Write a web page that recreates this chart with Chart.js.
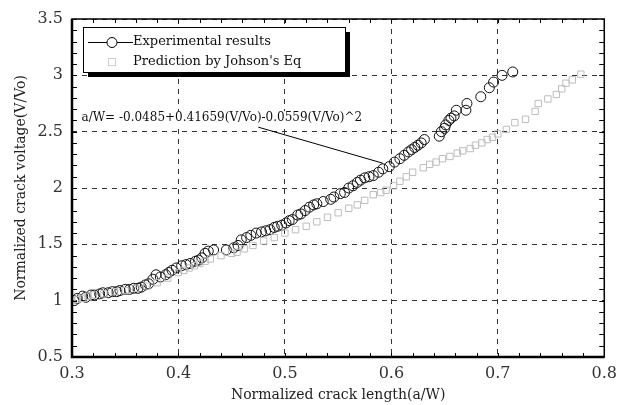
<!DOCTYPE html>
<html>
<head>
<meta charset="utf-8">
<script src="https://cdn.jsdelivr.net/npm/chart.js@4"></script>
<style>
  html, body { margin: 0; padding: 0; background: #fff; }
  #wrap { width: 624px; height: 405px; }
</style>
</head>
<body>
<div id="wrap"><canvas id="canvas"></canvas></div>
<script>
// experimental points (a/W, V/Vo)
const expX = [0.302, 0.305, 0.31, 0.313, 0.318, 0.321, 0.326, 0.329, 0.334, 0.338, 0.342, 0.345, 0.35, 0.354, 0.358, 0.362,
    0.365, 0.369, 0.372, 0.376, 0.379, 0.383, 0.388, 0.391, 0.394, 0.398, 0.403, 0.407, 0.411, 0.416, 0.419, 0.422,
    0.425, 0.428, 0.433, 0.445, 0.452, 0.456, 0.459, 0.464, 0.468, 0.473, 0.478, 0.482, 0.486, 0.49, 0.493, 0.497,
    0.501, 0.504, 0.507, 0.512, 0.515, 0.519, 0.523, 0.527, 0.53, 0.536, 0.543, 0.546, 0.552, 0.556, 0.56, 0.564,
    0.568, 0.571, 0.575, 0.579, 0.583, 0.588, 0.592, 0.598, 0.603, 0.608, 0.612, 0.616, 0.619, 0.622, 0.625, 0.628,
    0.631, 0.645, 0.647, 0.65, 0.651, 0.654, 0.656, 0.659, 0.661, 0.67, 0.671, 0.684, 0.692, 0.696, 0.704, 0.714];
const expY = [1.0, 1.02, 1.04, 1.03, 1.05, 1.05, 1.06, 1.07, 1.07, 1.08, 1.08, 1.09, 1.1, 1.1, 1.11, 1.11,
    1.12, 1.14, 1.15, 1.19, 1.23, 1.21, 1.23, 1.25, 1.27, 1.29, 1.31, 1.32, 1.33, 1.35, 1.36, 1.38,
    1.42, 1.44, 1.45, 1.45, 1.47, 1.49, 1.54, 1.56, 1.58, 1.6, 1.61, 1.62, 1.63, 1.65, 1.66, 1.67,
    1.69, 1.71, 1.72, 1.76, 1.77, 1.8, 1.83, 1.85, 1.86, 1.88, 1.9, 1.92, 1.95, 1.96, 2.0, 2.02,
    2.05, 2.07, 2.09, 2.1, 2.11, 2.14, 2.17, 2.19, 2.23, 2.26, 2.29, 2.32, 2.34, 2.36, 2.38, 2.4,
    2.43, 2.46, 2.5, 2.53, 2.56, 2.6, 2.62, 2.64, 2.69, 2.69, 2.75, 2.81, 2.89, 2.94, 3.0, 3.03];

// Johnson's equation prediction
const predX = [0.3, 0.305, 0.31, 0.315, 0.32, 0.33, 0.34, 0.35, 0.36, 0.37, 0.38, 0.39, 0.4, 0.405, 0.41, 0.415,
    0.42, 0.425, 0.43, 0.44, 0.45, 0.455, 0.462, 0.47, 0.48, 0.49, 0.5, 0.51, 0.52, 0.53, 0.54, 0.55,
    0.56, 0.568, 0.575, 0.583, 0.59, 0.595, 0.602, 0.608, 0.614, 0.62, 0.63, 0.636, 0.642, 0.648, 0.655, 0.662,
    0.667, 0.674, 0.679, 0.685, 0.69, 0.695, 0.7, 0.708, 0.716, 0.726, 0.735, 0.738, 0.747, 0.755, 0.76, 0.764,
    0.77, 0.778];
const predY = [1.0, 1.01, 1.02, 1.04, 1.05, 1.06, 1.08, 1.09, 1.11, 1.13, 1.16, 1.2, 1.25, 1.27, 1.29, 1.31,
    1.33, 1.35, 1.37, 1.4, 1.42, 1.43, 1.46, 1.49, 1.53, 1.56, 1.6, 1.63, 1.66, 1.7, 1.74, 1.78,
    1.82, 1.85, 1.89, 1.94, 1.96, 1.98, 2.02, 2.06, 2.1, 2.14, 2.18, 2.21, 2.23, 2.26, 2.28, 2.31,
    2.33, 2.35, 2.38, 2.4, 2.43, 2.45, 2.48, 2.52, 2.58, 2.61, 2.68, 2.75, 2.79, 2.83, 2.88, 2.93,
    2.96, 3.01];

const legendLabels = ['Experimental results', "Prediction by Johson's Eq"];
const xTitle = 'Normalized crack length(a/W)';
const yTitle = 'Normalized crack voltage(V/Vo)';
const fitText = 'a/W= -0.0485+0.41659(V/Vo)-0.0559(V/Vo)^2';
const fitLabelAt = [0.309, 2.62];
const fitArrow = [[0.475, 2.54], [0.592, 2.22]];

const serif = '"DejaVu Serif", "Liberation Serif", serif';

const toPoints = (xs, ys) => xs.map((x, i) => ({ x: x, y: ys[i] }));

// frame, inward minor ticks, legend box, fit label
const decor = {
    id: 'decor',
    afterDatasetsDraw(chart) {
        const ctx = chart.ctx;
        const a = chart.chartArea;
        const xs = chart.scales.x;
        const ys = chart.scales.y;
        ctx.save();
        ctx.strokeStyle = '#000';

        // minor ticks
        ctx.lineWidth = 1;
        ctx.beginPath();
        for (let i = 1; i < 25; i++) {
            const px = Math.round(xs.getPixelForValue(0.3 + i * 0.02)) + 0.5;
            ctx.moveTo(px, a.bottom); ctx.lineTo(px, a.bottom - 4);
            ctx.moveTo(px, a.top); ctx.lineTo(px, a.top + 4);
        }
        for (let i = 1; i < 30; i++) {
            const py = Math.round(ys.getPixelForValue(0.5 + i * 0.1)) + 0.5;
            ctx.moveTo(a.left, py); ctx.lineTo(a.left + 5, py);
            ctx.moveTo(a.right, py); ctx.lineTo(a.right - 5, py);
        }
        ctx.stroke();

        // frame
        ctx.lineWidth = 1.5;
        ctx.strokeRect(a.left, a.top, a.right - a.left, a.bottom - a.top);
        ctx.lineWidth = 2.5;
        ctx.beginPath();
        ctx.moveTo(a.left, a.top); ctx.lineTo(a.left, a.bottom); ctx.lineTo(a.right, a.bottom);
        ctx.stroke();

        // fit equation + pointer line
        ctx.font = '12px ' + serif;
        ctx.textBaseline = 'middle';
        ctx.fillStyle = '#fff';
        const tw = ctx.measureText(fitText).width;
        const tx = xs.getPixelForValue(fitLabelAt[0]);
        const ty = ys.getPixelForValue(fitLabelAt[1]);
        ctx.fillRect(tx - 1, ty - 7, tw + 2, 14);
        ctx.fillStyle = '#111';
        ctx.fillText(fitText, tx, ty);
        ctx.lineWidth = 1;
        ctx.beginPath();
        ctx.moveTo(xs.getPixelForValue(fitArrow[0][0]), ys.getPixelForValue(fitArrow[0][1]));
        ctx.lineTo(xs.getPixelForValue(fitArrow[1][0]), ys.getPixelForValue(fitArrow[1][1]));
        ctx.stroke();

        // legend box with shadow
        const bx = 83, by = 27, bw = 262, bh = 45;
        ctx.fillStyle = '#000';
        ctx.fillRect(bx + 5, by + 5, bw, bh);
        ctx.fillStyle = '#fff';
        ctx.fillRect(bx, by, bw, bh);
        ctx.lineWidth = 1;
        ctx.strokeRect(bx + 0.5, by + 0.5, bw, bh);

        ctx.font = '13px ' + serif;
        ctx.fillStyle = '#111';
        ctx.textBaseline = 'middle';
        ctx.fillText(legendLabels[0], 133, 42);
        ctx.fillText(legendLabels[1], 133, 62);
        ctx.beginPath();
        ctx.moveTo(88, 42.5); ctx.lineTo(107, 42.5);
        ctx.moveTo(117, 42.5); ctx.lineTo(133, 42.5);
        ctx.stroke();
        ctx.beginPath();
        ctx.arc(112, 42.5, 5, 0, Math.PI * 2);
        ctx.stroke();
        ctx.strokeStyle = '#d0d0d0';
        ctx.strokeRect(108.5, 58.5, 7, 7);
        ctx.restore();
    }
};

const canvas = document.getElementById('canvas');
const chart = new Chart(canvas, {
    type: 'scatter',
    data: {
        datasets: [
            {
                label: legendLabels[1],
                data: toPoints(predX, predY),
                pointStyle: 'rect',
                pointRadius: 4.5,
                borderColor: '#bdbdbd',
                backgroundColor: 'rgba(0,0,0,0)',
                borderWidth: 1,
            },
            {
                label: legendLabels[0],
                data: toPoints(expX, expY),
                pointStyle: 'circle',
                pointRadius: 5,
                borderColor: '#111',
                backgroundColor: 'rgba(0,0,0,0)',
                borderWidth: 1,
            },
        ]
    },
    options: {
        responsive: true,
        maintainAspectRatio: false,
        animation: false,
        layout: { padding: { left: 0, top: 19, right: 14, bottom: 0 } },
        plugins: {
            legend: { display: false },
            tooltip: { enabled: false },
        },
        scales: {
            x: {
                type: 'linear',
                min: 0.3,
                max: 0.8,
                afterFit: s => { s.height = 48; },
                border: { display: false },
                grid: {
                    color: '#333',
                    lineWidth: 1,
                    drawTicks: false,
                },
                ticks: {
                    stepSize: 0.1,
                    padding: 7,
                    color: '#333',
                    font: { family: serif, size: 16 },
                    callback: v => v.toFixed(1),
                },
                title: {
                    display: true,
                    text: xTitle,
                    color: '#222',
                    padding: { top: 0, bottom: 1 },
                    font: { family: serif, size: 14 },
                },
            },
            y: {
                type: 'linear',
                min: 0.5,
                max: 3.5,
                afterFit: s => { s.width = 72; },
                border: { display: false },
                grid: {
                    color: '#333',
                    lineWidth: 1,
                    drawTicks: false,
                },
                ticks: {
                    stepSize: 0.5,
                    padding: 9,
                    color: '#333',
                    font: { family: serif, size: 16 },
                    callback: v => (v % 1 === 0 ? String(v) : v.toFixed(1)),
                },
                title: {
                    display: true,
                    text: yTitle,
                    color: '#222',
                    padding: { top: 13, bottom: 0 },
                    font: { family: serif, size: 14 },
                },
            },
        },
    },
    plugins: [decor],
});

// dashed grid lines
chart.options.scales.x.grid.borderDash = [5, 5];
chart.options.scales.y.grid.borderDash = [5, 5];
chart.options.scales.x.border.dash = [5, 5];
chart.options.scales.y.border.dash = [5, 5];
chart.update();
</script>
</body>
</html>
